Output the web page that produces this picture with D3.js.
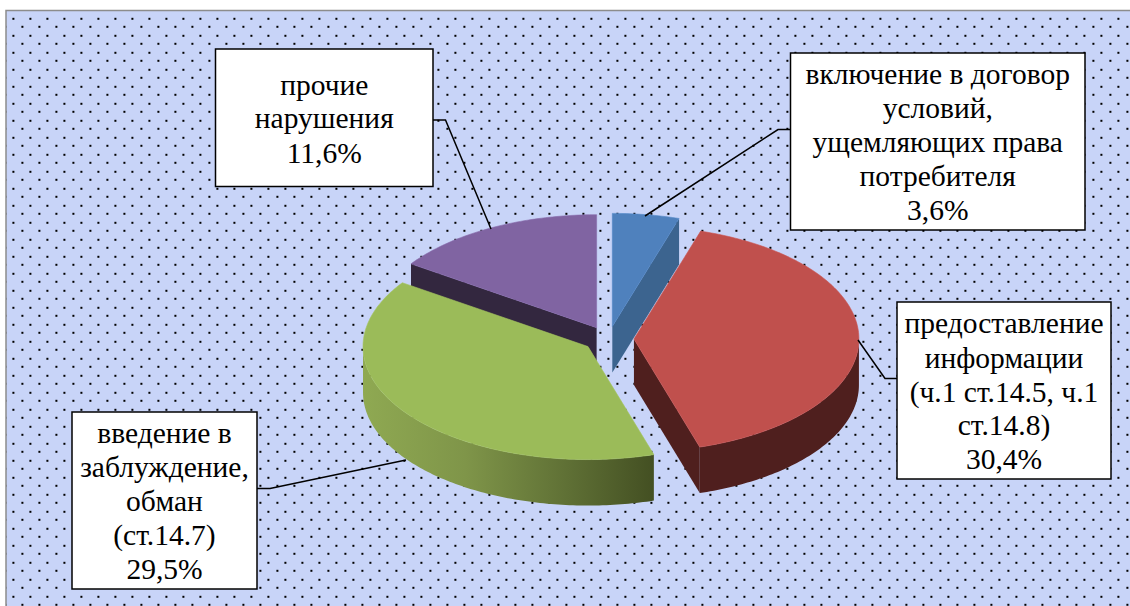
<!DOCTYPE html>
<html><head><meta charset="utf-8">
<script src="https://cdn.jsdelivr.net/npm/d3@7"></script>
<style>html,body{margin:0;padding:0;background:#fff;overflow:hidden}svg{display:block}</style>
</head><body><svg id="c" width="1130" height="606"></svg>
<script>
const categories = ["включение в договор условий, ущемляющих права потребителя","предоставление информации (ч.1 ст.14.5, ч.1 ст.14.8)","введение в заблуждение, обман (ст.14.7)","прочие нарушения"];
const values = [3.6, 30.4, 29.5, 11.6];
const valueLabels = ["3,6%","30,4%","29,5%","11,6%"];
const topColors = ["#4f81bd","#c0504d","#9bbb59","#8064a2"];
const wallColors = ["#3c648f","#4f1f1e","#8aa54d","#33273f"];
const labelLines = [
  ["включение в договор","условий,","ущемляющих права","потребителя","3,6%"],
  ["предоставление","информации","(ч.1 ст.14.5, ч.1","ст.14.8)","30,4%"],
  ["введение в","заблуждение,","обман","(ст.14.7)","29,5%"],
  ["прочие","нарушения","11,6%"]
];
const boxes = [
  {x:790.5,y:53,w:294.5,h:177,base:[84,118,152,186,220],leader:[[790,129.5],[778,129.5],[645,216]]},
  {x:897,y:302,w:214,h:177,base:[333,368,402,435,469],leader:[[858,340],[885,378.5],[897,378.5]]},
  {x:72,y:412,w:185,h:177,base:[443,477,511,545,579],leader:[[257,488.5],[270,488.5],[406,460]]},
  {x:215.5,y:49,w:217.5,h:137.5,base:[95,128,162.5],leader:[[433,120],[445.5,120],[491,229]]}
];
const cx=608.5, cy=339, rx=225, ry=113, depth=46, explode=0.113;
const W=1130,H=606;
const svg=d3.select("#c");
const defs=svg.append("defs");
const pat=defs.append("pattern").attr("id","dots").attr("patternUnits","userSpaceOnUse").attr("width",17).attr("height",17);
pat.append("rect").attr("width",17).attr("height",17).attr("fill","#c8d4f8");
[[12.4,0.8],[4.4,8.8]].forEach(d=>pat.append("rect").attr("x",d[0]).attr("y",d[1]).attr("width",2).attr("height",2).attr("fill","#000"));
const grad=defs.append("linearGradient").attr("id","gw").attr("gradientUnits","userSpaceOnUse").attr("x1",363).attr("x2",655).attr("y1",0).attr("y2",0);
[[0,"#8fa952"],[0.35,"#7f9549"],[0.7,"#5f7035"],[1,"#434f22"]].forEach(s=>grad.append("stop").attr("offset",s[0]).attr("stop-color",s[1]));

svg.append("rect").attr("x",6).attr("y",10.5).attr("width",W).attr("height",H).attr("fill","url(#dots)").attr("stroke","#8c8c8c").attr("stroke-width",1.5);

const arcs=d3.pie().sort(null).value(d=>d)(values);
const X=d3.scaleLinear().domain([-1,1]).range([-rx,rx]);
const Y=d3.scaleLinear().domain([-1,1]).range([-ry,ry]);
function pt(c,a,dz=0){return [c[0]+X(Math.sin(a)),c[1]-Y(Math.cos(a))+dz];}
function rim(c,a0,a1,dz=0){const n=Math.max(2,Math.ceil((a1-a0)*60));return d3.range(n+1).map(i=>pt(c,a0+(a1-a0)*i/n,dz));}
const line=d3.line();
arcs.forEach(a=>{const m=(a.startAngle+a.endAngle)/2;a.c=[cx+X(Math.sin(m))*explode,cy-Y(Math.cos(m))*explode];});
const g=svg.append("g");
function wallPoly(a,ang){const p=pt(a.c,ang);return line([a.c,p,[p[0],p[1]+depth],[a.c[0],a.c[1]+depth]])+"Z";}
function rimWall(a,a0,a1){const t=rim(a.c,a0,a1),b=rim(a.c,a0,a1,depth).reverse();return line(t.concat(b))+"Z";}
function drawTop(a,i){g.append("path").attr("d",line([a.c].concat(rim(a.c,a.startAngle,a.endAngle)))+"Z").attr("fill",topColors[i]).attr("stroke",d3.color(topColors[i]).brighter(0.15)).attr("stroke-width",0.6).attr("stroke-linejoin","round");}
// back to front: purple, blue, green, red
g.append("path").attr("d",wallPoly(arcs[3],arcs[3].startAngle)).attr("fill",wallColors[3]);
drawTop(arcs[3],3);
g.append("path").attr("d",wallPoly(arcs[0],arcs[0].endAngle)).attr("fill",wallColors[0]);
drawTop(arcs[0],0);
g.append("path").attr("d",rimWall(arcs[2],arcs[2].startAngle,Math.PI*1.5)).attr("fill","url(#gw)");
drawTop(arcs[2],2);
g.append("path").attr("d",wallPoly(arcs[1],arcs[1].endAngle)).attr("fill",wallColors[1]);
g.append("path").attr("d",rimWall(arcs[1],Math.PI/2,arcs[1].endAngle)).attr("fill",wallColors[1]);
drawTop(arcs[1],1);

const lab=svg.append("g");
boxes.forEach((b,i)=>{
  lab.append("path").attr("d",line(b.leader)).attr("fill","none").attr("stroke","#000").attr("stroke-width",1.5);
  lab.append("rect").attr("x",b.x).attr("y",b.y).attr("width",b.w).attr("height",b.h).attr("fill","#fff").attr("stroke","#000").attr("stroke-width",1.5);
  labelLines[i].forEach((t,j)=>lab.append("text").attr("x",b.x+b.w/2).attr("y",b.base[j]).attr("text-anchor","middle").attr("font-family","'Liberation Serif',serif").attr("font-size",29.5).attr("fill","#000").text(t));
});
</script></body></html>
